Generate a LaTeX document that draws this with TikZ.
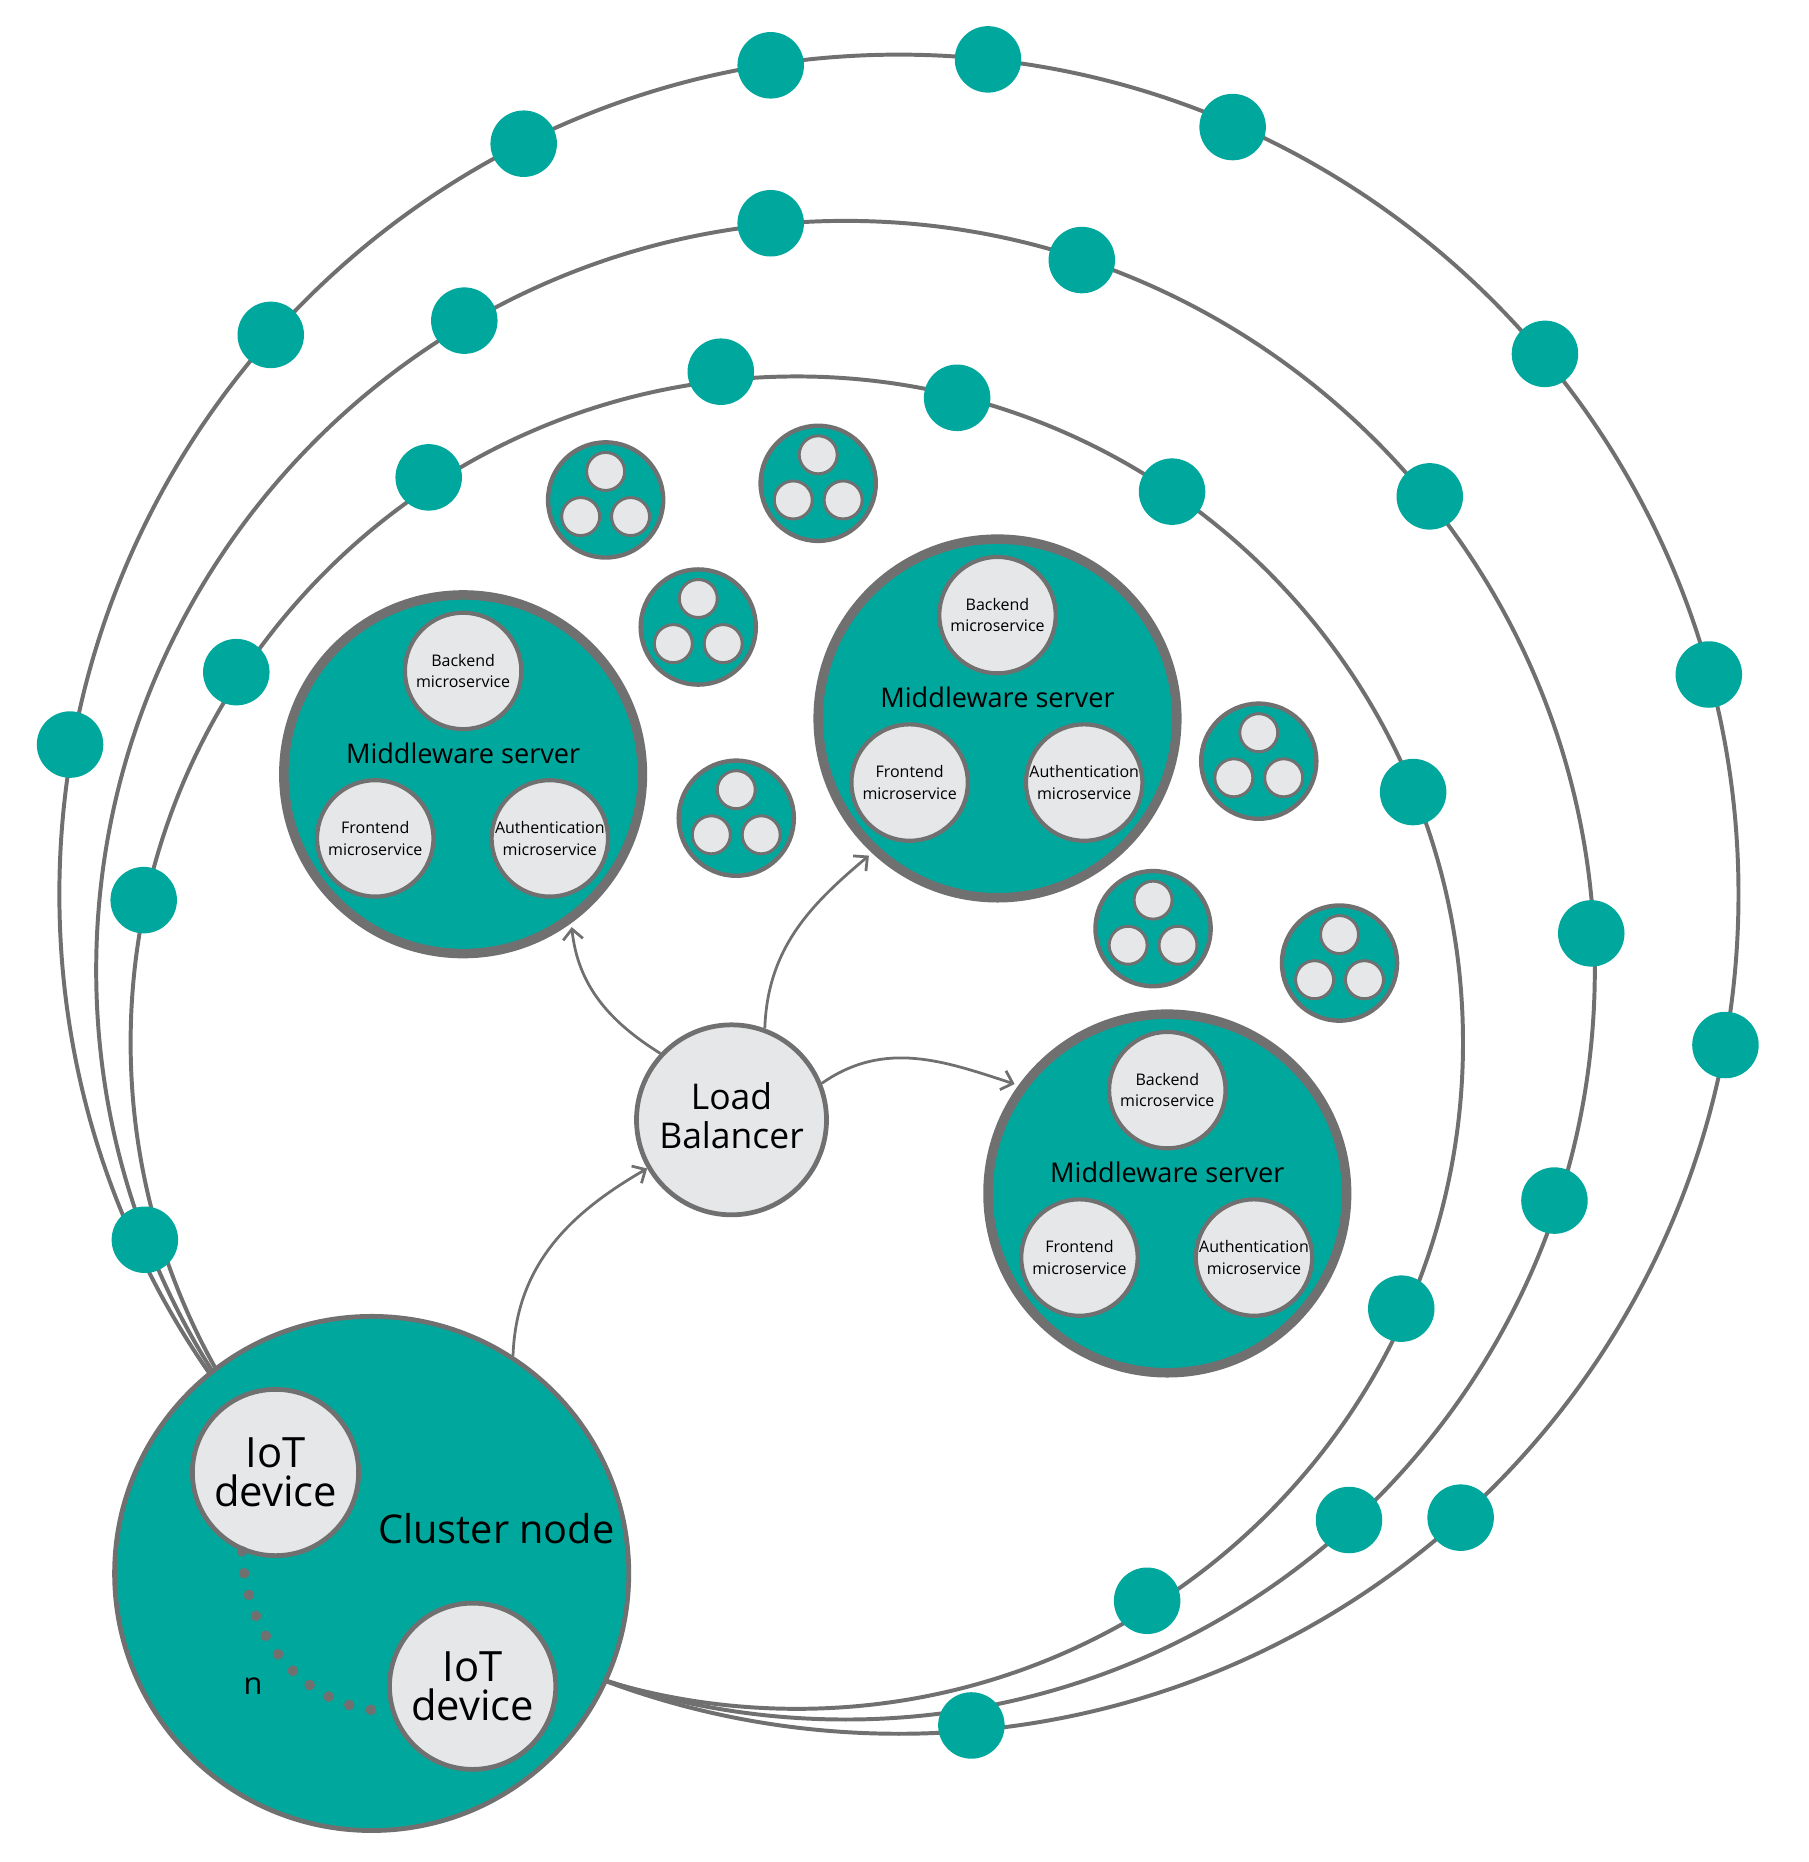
\documentclass[tikz,border=0pt]{standalone}
\usepackage{fontspec}
\setmainfont{Open Sans}
\usetikzlibrary{arrows.meta}
\definecolor{tealc}{HTML}{00A79D}
\definecolor{edgegray}{HTML}{707070}
\definecolor{paper}{HTML}{E6E7E8}
\begin{document}
\begin{tikzpicture}[x=0.3mm,y=0.3mm,
  ring/.style={draw=edgegray,line width=1mm},
  hub/.style={circle,fill=tealc,draw=edgegray,line width=1.2mm,minimum size=129.9mm,inner sep=0pt},
  device/.style={circle,fill=paper,draw=edgegray,line width=1.2mm,minimum size=42mm,inner sep=0pt,align=center,font=\fontsize{30}{28}\selectfont},
  balancer/.style={circle,fill=paper,draw=edgegray,line width=1.2mm,minimum size=48mm,inner sep=0pt,align=center,font=\fontsize{25.5}{28}\selectfont},
  server/.style={circle,fill=tealc,draw=edgegray,line width=2.4mm,minimum size=90.6mm,inner sep=0pt},
  micro/.style={circle,fill=paper,draw=edgegray,line width=1.05mm,minimum size=29.4mm,inner sep=0pt,align=center,font=\fontsize{11.5}{15.5}\selectfont},
  srvlabel/.style={font=\fontsize{19.5}{23}\selectfont},
  flow/.style={draw=edgegray,line width=0.7mm,-{Straight Barb[length=2.6mm,width=5mm]}},
  dotline/.style={draw=edgegray,line width=2.7mm,dash pattern=on 0pt off 5.6mm,line cap=round}]
  \useasboundingbox (0,-1568) rectangle (1523,0);

  % rings
  \draw[ring] (757,-753) circle (707);
  \draw[ring] (712,-817) circle (631);
  \draw[ring] (671,-878) circle (561);
  \foreach \x/\y in {649/55,832/50,1038/107,1301/298,1439/568,1453/880,1230/1278,818/1453,441/121,228/282,59/627,
                     649/188,911/219,1204/418,1340/786,1309/1011,1136/1280,391/270,122/1044,
                     607/313,806/335,987/414,1190/667,1180/1102,966/1348,361/402,199/566,121/758}{
    \fill[tealc] (\x,-\y) circle (28);}

  % idle servers
  \foreach \x/\y in {510/421,689/407,588/528,620/689,1060/641,971/782,1128/811}{
    \draw[fill=tealc,draw=edgegray,line width=1.1mm] (\x,-\y) circle (48.5);
    \foreach \dx/\dy in {0/24,-21/-14,21/-14}{
      \draw[fill=paper,draw=edgegray,line width=0.75mm] (\x+\dx,-\y+\dy) circle (16);}}

  % middleware servers
  \foreach \n/\x/\y in {1/390/-652,2/840/-605,3/983/-1005}{
    \node[server] (ms\n) at (\x,\y) {};
    \node[micro] (be\n) at (\x,\y+87) {Backend\\microservice};
    \node[micro] (fe\n) at (\x-74,\y-54) {Frontend\\microservice};
    \node[micro] (au\n) at (\x+73,\y-54) {Authentication\\microservice};
    \node[srvlabel] (lbl\n) at (\x,\y+18) {Middleware server};}

  \node[balancer] (lb) at (616,-943) {Load\\Balancer\vphantom{g}};

  % cluster
  \node[hub] (cluster) at (313,-1325) {};
  \node[device] (iot1) at (232,-1240) {IoT\\device};
  \node[device] (iot2) at (398,-1420) {IoT\\device};
  \node[font=\fontsize{28.5}{30}\selectfont] (cname) at (418,-1287) {Cluster node};
  \draw[dotline] (iot1.-113) to[out=-88,in=180] (iot2.197);
  \node[font=\fontsize{22}{24}\selectfont] (nlab) at (213,-1420) {n};

  \draw[flow] (cluster.57) to[out=88,in=210] (lb.210);
  \draw[flow,shorten >=1mm] (lb.137) to[out=148,in=-84] (ms1.-54);
  \draw[flow,shorten >=1mm] (lb.70) to[out=88,in=220] (ms2.227);
  \draw[flow,shorten >=1mm] (lb.22) to[out=35,in=162] (ms3.144);
\end{tikzpicture}
\end{document}
